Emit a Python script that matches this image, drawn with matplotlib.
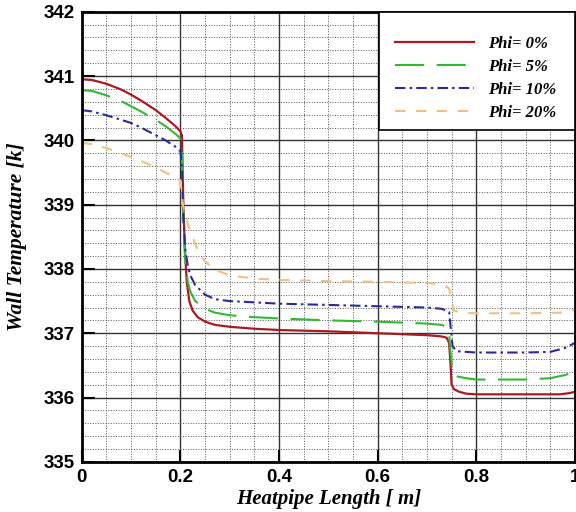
import numpy as np
import matplotlib
matplotlib.use("Agg")
import matplotlib.pyplot as plt
from matplotlib.patches import Rectangle
from matplotlib.ticker import MultipleLocator

# series
x_phi0 = [0, 0.02, 0.05, 0.08, 0.1, 0.12, 0.15, 0.17, 0.19, 0.2, 0.203, 0.206, 0.209, 0.213,
          0.218, 0.225, 0.235, 0.25, 0.27, 0.3, 0.35, 0.4, 0.5, 0.6, 0.7, 0.73, 0.74, 0.745,
          0.748, 0.75, 0.755, 0.765, 0.78, 0.8, 0.9, 0.97, 0.99, 1.0]
y_phi0 = [340.95, 340.94, 340.88, 340.79, 340.71, 340.62, 340.47, 340.35, 340.22, 340.14, 340.08,
          339.0, 338.3, 337.8, 337.5, 337.35, 337.25, 337.18, 337.13, 337.1, 337.07, 337.05,
          337.03, 337.0, 336.97, 336.95, 336.93, 336.85, 336.5, 336.2, 336.13, 336.09, 336.06,
          336.05, 336.05, 336.05, 336.07, 336.09]

x_phi5 = [0, 0.02, 0.05, 0.08, 0.1, 0.12, 0.15, 0.17, 0.19, 0.2, 0.203, 0.206, 0.21, 0.215,
          0.22, 0.23, 0.25, 0.27, 0.3, 0.35, 0.4, 0.5, 0.6, 0.7, 0.73, 0.74, 0.745, 0.748,
          0.752, 0.76, 0.78, 0.8, 0.9, 0.95, 0.98, 1.0]
y_phi5 = [340.78, 340.77, 340.7, 340.61, 340.53, 340.45, 340.32, 340.22, 340.1, 340.03, 339.9,
          338.8, 338.1, 337.8, 337.65, 337.5, 337.38, 337.32, 337.28, 337.25, 337.23, 337.2,
          337.18, 337.15, 337.13, 337.1, 337.0, 336.7, 336.4, 336.33, 336.3, 336.28, 336.28,
          336.3, 336.35, 336.4]

x_phi10 = [0, 0.02, 0.05, 0.08, 0.1, 0.12, 0.15, 0.17, 0.19, 0.2, 0.203, 0.206, 0.21, 0.215,
           0.22, 0.23, 0.25, 0.27, 0.3, 0.35, 0.4, 0.5, 0.6, 0.7, 0.73, 0.745, 0.748, 0.752,
           0.76, 0.8, 0.9, 0.95, 0.98, 1.0]
y_phi10 = [340.47, 340.45, 340.39, 340.32, 340.27, 340.2, 340.08, 340.0, 339.9, 339.83, 339.6,
           338.8, 338.3, 338.05, 337.9, 337.75, 337.6, 337.53, 337.5, 337.48, 337.46, 337.44,
           337.42, 337.4, 337.38, 337.33, 337.1, 336.8, 336.72, 336.7, 336.7, 336.71, 336.77,
           336.85]

x_phi20 = [0, 0.02, 0.05, 0.08, 0.1, 0.12, 0.15, 0.17, 0.19, 0.2, 0.205, 0.215, 0.232, 0.24,
           0.266, 0.3, 0.35, 0.4, 0.5, 0.6, 0.7, 0.73, 0.745, 0.75, 0.755, 0.77, 0.8, 0.9,
           0.97, 1.0]
y_phi20 = [339.96, 339.94, 339.88, 339.8, 339.74, 339.68, 339.58, 339.5, 339.42, 339.38, 339.0,
           338.7, 338.35, 338.2, 338.0, 337.9, 337.85, 337.83, 337.81, 337.8, 337.78, 337.76,
           337.7, 337.5, 337.35, 337.32, 337.31, 337.31, 337.32, 337.36]

labels = ["Phi= 0%", "Phi= 5%", "Phi= 10%", "Phi= 20%"]

fig = plt.figure(figsize=(5.76, 5.12), dpi=100)
ax = fig.add_axes([0.142, 0.098, 0.856, 0.879])

ax.plot(x_phi0, y_phi0, color="#aa1a24", lw=1.6, ls="-", label=labels[0])
ax.plot(x_phi5, y_phi5, color="#33b833", lw=1.5, ls=(0, (14, 6)), label=labels[1])
ax.plot(x_phi10, y_phi10, color="#2a2a9a", lw=1.5, ls=(0, (5, 2, 1.2, 2)), label=labels[2])
ax.plot(x_phi20, y_phi20, color="#f0c080", lw=1.5, ls=(0, (5, 5)), label=labels[3])

ax.set_xlim(0, 1)
ax.set_ylim(335, 342)
ax.xaxis.set_major_locator(MultipleLocator(0.2))
ax.xaxis.set_minor_locator(MultipleLocator(0.05))
ax.yaxis.set_major_locator(MultipleLocator(1))
ax.yaxis.set_minor_locator(MultipleLocator(0.2))
ax.set_xticks([0, 0.2, 0.4, 0.6, 0.8, 1.0], ["0", "0.2", "0.4", "0.6", "0.8", "1"])

ax.grid(which="major", color="#333333", lw=1.0, ls="-")
ax.grid(which="minor", color="#555555", lw=0.7, ls=":")
ax.set_axisbelow(True)

ax.tick_params(which="major", direction="in", length=9, width=1.5, pad=5)
ax.tick_params(which="minor", length=0)
for lab in ax.get_xticklabels() + ax.get_yticklabels():
    lab.set_fontfamily("Liberation Sans")
    lab.set_fontweight("bold")
    lab.set_fontsize(13.5)
for sp in ax.spines.values():
    sp.set_linewidth(2)

ax.set_xlabel("Heatpipe Length [ m]", family="Liberation Serif", fontweight="bold",
              style="italic", fontsize=15, labelpad=2)
ax.set_ylabel("Wall Temperature [k]", family="Liberation Serif", fontweight="bold",
              style="italic", fontsize=15.5, labelpad=12)

# white legend box sitting over the grid in the upper right corner
box = Rectangle((0.602, 0.738), 0.398, 0.262, transform=ax.transAxes, facecolor="white",
                edgecolor="black", lw=1.2, zorder=5, clip_on=False)
ax.add_patch(box)
leg = ax.legend(loc="upper left", bbox_to_anchor=(0.635, 0.946), borderaxespad=0,
                borderpad=0, frameon=False, handlelength=4.75, handletextpad=0.84,
                labelspacing=0.42,
                prop={"family": "Liberation Serif", "weight": "bold", "style": "italic", "size": 12})
leg.set_zorder(6)

fig.savefig("out.png", dpi=100)
